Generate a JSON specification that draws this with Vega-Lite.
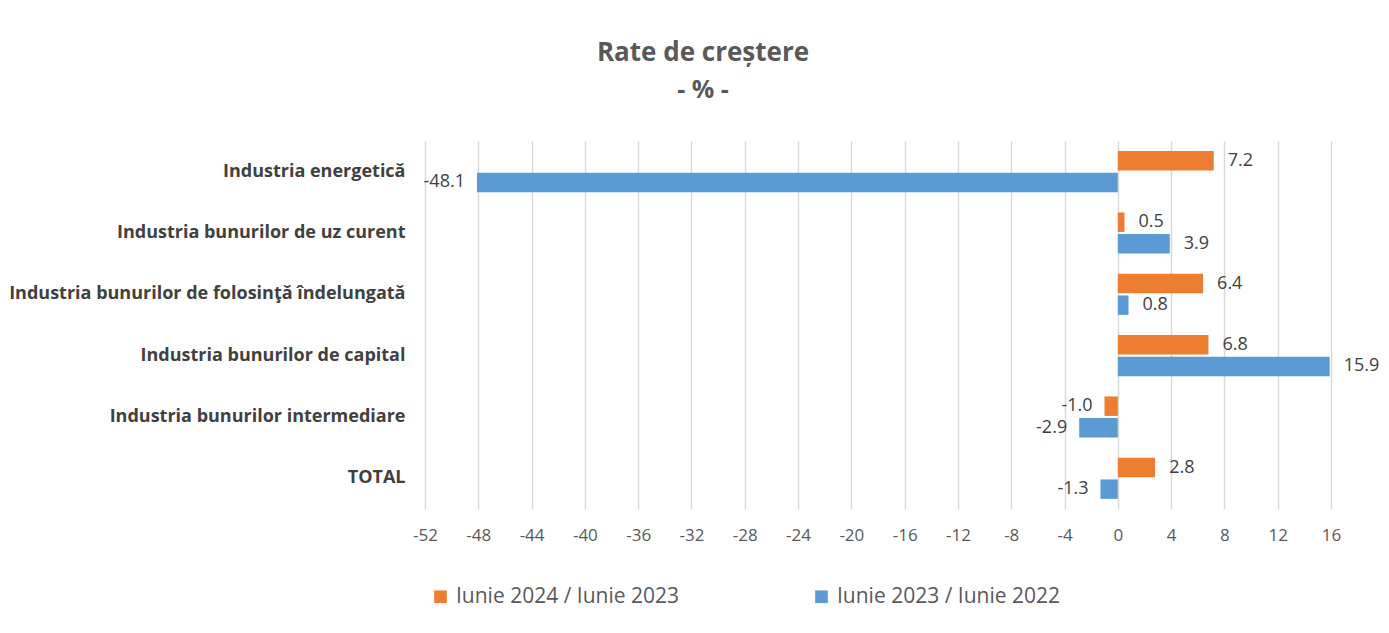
{
  "$schema": "https://vega.github.io/schema/vega-lite/v6.json",
  "autosize": {"type": "none"},
  "width": 906,
  "height": 368,
  "padding": {"left": 425, "top": 141, "right": 58, "bottom": 124},
  "background": "white",
  "config": {
    "view": {"stroke": null},
    "font": "Open Sans",
    "locale": {"number": {"decimal": ".", "thousands": ",", "grouping": [3], "currency": ["$", ""], "minus": "-"}}
  },
  "title": {
    "text": "Rate de creștere",
    "subtitle": "- % -",
    "frame": "group",
    "anchor": "middle",
    "dx": -175,
    "offset": 38,
    "font": "Open Sans",
    "fontSize": 26,
    "fontWeight": "bold",
    "color": "#595959",
    "subtitleFont": "Open Sans",
    "subtitleFontSize": 25,
    "subtitleFontWeight": "bold",
    "subtitleColor": "#595959",
    "subtitlePadding": 12
  },
  "data": {
    "values": [
      {"category": "Industria energetică", "series": "Iunie 2024 / Iunie 2023", "value": 7.2},
      {"category": "Industria energetică", "series": "Iunie 2023 / Iunie 2022", "value": -48.1},
      {"category": "Industria bunurilor de uz curent", "series": "Iunie 2024 / Iunie 2023", "value": 0.5},
      {"category": "Industria bunurilor de uz curent", "series": "Iunie 2023 / Iunie 2022", "value": 3.9},
      {"category": "Industria bunurilor de folosinţă  îndelungată", "series": "Iunie 2024 / Iunie 2023", "value": 6.4},
      {"category": "Industria bunurilor de folosinţă  îndelungată", "series": "Iunie 2023 / Iunie 2022", "value": 0.8},
      {"category": "Industria bunurilor de capital", "series": "Iunie 2024 / Iunie 2023", "value": 6.8},
      {"category": "Industria bunurilor de capital", "series": "Iunie 2023 / Iunie 2022", "value": 15.9},
      {"category": "Industria bunurilor intermediare", "series": "Iunie 2024 / Iunie 2023", "value": -1.0},
      {"category": "Industria bunurilor intermediare", "series": "Iunie 2023 / Iunie 2022", "value": -2.9},
      {"category": "TOTAL", "series": "Iunie 2024 / Iunie 2023", "value": 2.8},
      {"category": "TOTAL", "series": "Iunie 2023 / Iunie 2022", "value": -1.3}
    ]
  },
  "encoding": {
    "y": {
      "field": "category",
      "type": "nominal",
      "sort": ["Industria energetică", "Industria bunurilor de uz curent", "Industria bunurilor de folosinţă  îndelungată", "Industria bunurilor de capital", "Industria bunurilor intermediare", "TOTAL"],
      "scale": {"paddingInner": 0.33, "paddingOuter": 0.165},
      "axis": {
        "title": null,
        "domain": false,
        "ticks": false,
        "labelPadding": 20,
        "labelFont": "Open Sans",
        "labelFontSize": 18,
        "labelFontWeight": "bold",
        "labelColor": "#404040",
        "labelLimit": 500
      }
    },
    "yOffset": {
      "field": "series",
      "type": "nominal",
      "sort": ["Iunie 2024 / Iunie 2023", "Iunie 2023 / Iunie 2022"],
      "scale": {"paddingInner": 0.1}
    },
    "x": {
      "field": "value",
      "type": "quantitative",
      "scale": {"domain": [-52, 16], "nice": false, "zero": false},
      "axis": {
        "title": null,
        "values": [-52, -48, -44, -40, -36, -32, -28, -24, -20, -16, -12, -8, -4, 0, 4, 8, 12, 16],
        "format": "d",
        "domain": false,
        "ticks": false,
        "grid": true,
        "gridColor": "#D9D9D9",
        "gridWidth": 1.5,
        "labelFlush": false,
        "labelPadding": 18,
        "labelFont": "Open Sans",
        "labelFontSize": 17,
        "labelColor": "#595959"
      }
    }
  },
  "layer": [
    {
      "mark": {"type": "bar"},
      "encoding": {
        "color": {
          "field": "series",
          "type": "nominal",
          "scale": {"domain": ["Iunie 2024 / Iunie 2023", "Iunie 2023 / Iunie 2022"], "range": ["#ED7D31", "#5B9BD5"]},
          "legend": {
            "title": null,
            "orient": "none",
            "legendX": 5,
            "legendY": 445,
            "direction": "horizontal",
            "symbolType": "square",
            "symbolSize": 160,
            "symbolOpacity": 1,
            "symbolStrokeWidth": 0,
            "labelFont": "Open Sans",
            "labelFontSize": 21,
            "labelColor": "#595959",
            "labelOffset": 5,
            "columnPadding": 131,
            "labelLimit": 400
          }
        }
      }
    },
    {
      "transform": [{"filter": "datum.value >= 0"}],
      "mark": {"type": "text", "align": "left", "baseline": "middle", "dx": 14, "font": "Open Sans", "fontSize": 18, "color": "#404040"},
      "encoding": {"text": {"field": "value", "type": "quantitative", "format": ".1f"}}
    },
    {
      "transform": [{"filter": "datum.value < 0"}],
      "mark": {"type": "text", "align": "right", "baseline": "middle", "dx": -12, "font": "Open Sans", "fontSize": 18, "color": "#404040"},
      "encoding": {"text": {"field": "value", "type": "quantitative", "format": ".1f"}}
    }
  ]
}
